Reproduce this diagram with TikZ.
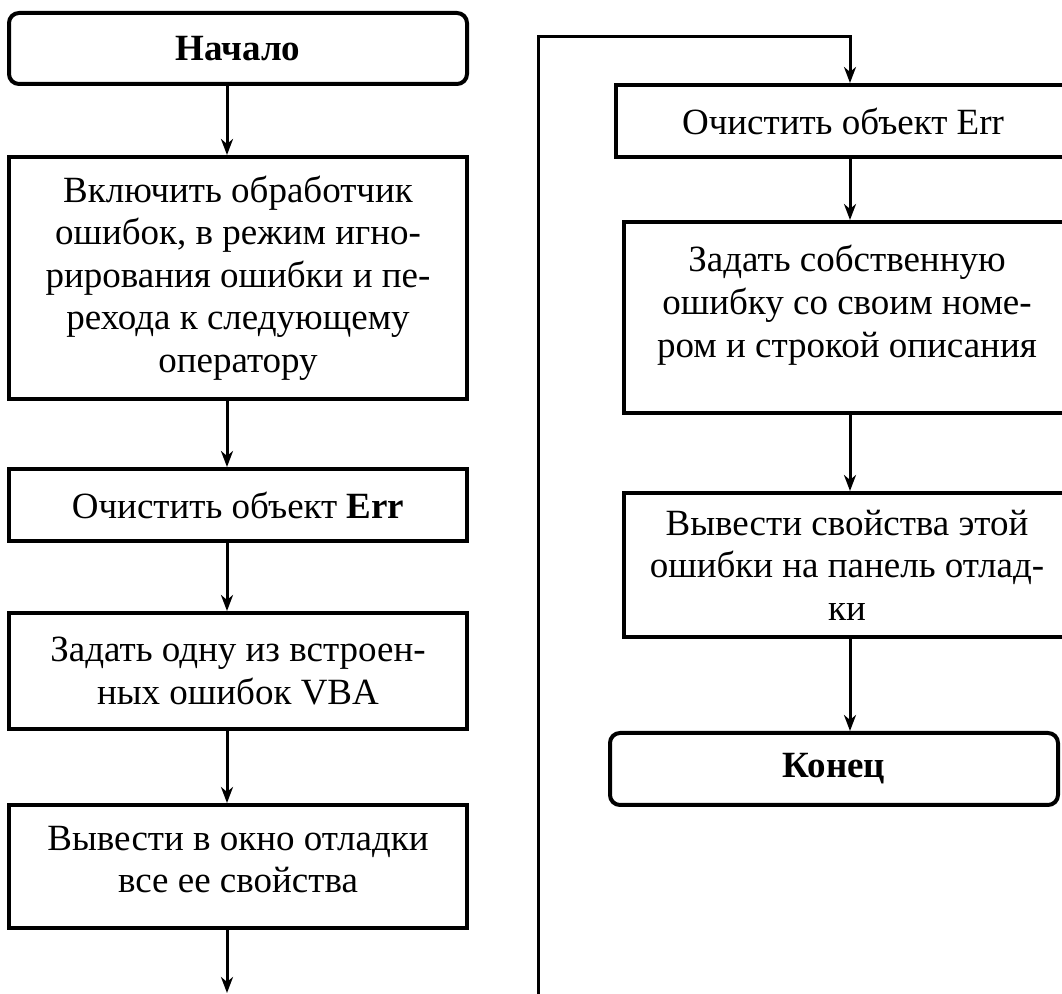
\documentclass[tikz,border=0pt]{standalone}
\usepackage{fontspec}
\setmainfont{Liberation Serif}
\usepackage{tikz}
\usetikzlibrary{arrows.meta,shapes,positioning}

\tikzset{
  blk/.style={draw, line width=2pt, inner sep=0pt, align=center,
    font=\fontsize{18.5}{21.3}\selectfont},
  term/.style={blk, rounded corners=5pt, font=\fontsize{18.5}{21.3}\selectfont\bfseries},
  arr/.style={line width=1.5pt, -{Stealth[length=8pt,width=6pt,inset=2.5pt]}},
  wire/.style={line width=1.5pt}
}

\begin{document}
\begin{tikzpicture}[x=0.5pt,y=-0.5pt]
        \useasboundingbox (0,0) rectangle (1062,994);

        % left column
        \node[term, minimum width=229pt, minimum height=35.5pt] (start) at (238,48.5) {Начало};
        \node[blk, minimum width=229pt, minimum height=121pt] (handler) at (238,278)
            {Включить обработчик\\ошибок, в режим игно-\\рирования ошибки и пе-\\рехода к следующему\\оператору};
        \node[blk, minimum width=229pt, minimum height=36pt] (clear1) at (238,505) {Очистить объект \textbf{Err}};
        \node[blk, minimum width=229pt, minimum height=58pt] (raise1) at (238,671)
            {Задать одну из встроен-\\ных ошибок VBA};
        \node[blk, minimum width=229pt, minimum height=61.5pt] (print1) at (238,866.5)
            {Вывести в окно отладки\\все ее свойства\\[-14pt]\mbox{}};

        % right column
        \node[blk, minimum width=227pt, minimum height=36pt] (clear2) at (843,121) {Очистить объект Err};
        \node[blk, minimum width=223pt, minimum height=95.5pt] (raise2) at (847,317.5)
            {Задать собственную\\ошибку со своим номе-\\ром и строкой описания\\[-5pt]\mbox{}};
        \node[blk, minimum width=223pt, minimum height=72pt] (print2) at (847,565)
            {Вывести свойства этой\\ошибки на панель отлад-\\ки};
        \node[term, minimum width=224pt, minimum height=36pt] (stop) at (834,769) {Конец};

        \coordinate (lc) at (227,0);
        \coordinate (rc) at (850,0);
        \coordinate (out) at (227,993);
        \coordinate (in) at (538,994);
        \coordinate (turn) at (538,37);

        \draw[arr] (start.south -| lc) -- (handler.north -| lc);
        \draw[arr] (handler.south -| lc) -- (clear1.north -| lc);
        \draw[arr] (clear1.south -| lc) -- (raise1.north -| lc);
        \draw[arr] (raise1.south -| lc) -- (print1.north -| lc);
        \draw[arr] (print1.south -| lc) -- (out);

        \draw[arr] (in) -- (turn) -| (clear2.north -| rc);
        \draw[arr] (clear2.south -| rc) -- (raise2.north -| rc);
        \draw[arr] (raise2.south -| rc) -- (print2.north -| rc);
        \draw[arr] (print2.south -| rc) -- (stop.north -| rc);

    \end{tikzpicture}
\end{document}
